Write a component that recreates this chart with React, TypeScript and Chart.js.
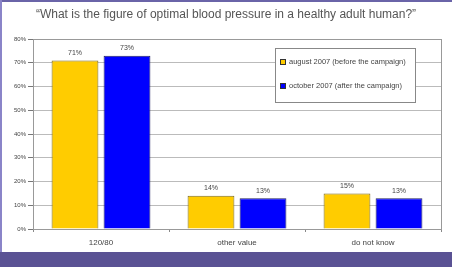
import React, { useEffect, useRef } from "react";
import { Chart, registerables } from "chart.js";
Chart.register(...registerables);

const categories = ["120/80", "other value", "do not know"];
const august2007 = [71, 14, 15];
const october2007 = [73, 13, 13];
const seriesNames = ["august 2007 (before the campaign)", "october 2007 (after the campaign)"];
const yTicks = [0, 10, 20, 30, 40, 50, 60, 70, 80];
const titleText = "\u201CWhat is the figure of optimal blood pressure in a healthy adult human?\u201D";

const YELLOW = "#FFCC00";
const BLUE = "#0000FF";
const FONT = "'Liberation Sans', Arial, sans-serif";

export default function App() {
  const ref = useRef<HTMLCanvasElement | null>(null);
  useEffect(() => {
    if (!ref.current) return;
    const extras = {
      id: "extras",
      afterDraw(chart: any) {
        const ctx = chart.ctx;
        const a = chart.chartArea;
        ctx.save();
        ctx.strokeStyle = "#999";
        ctx.lineWidth = 1;
        ctx.strokeRect(Math.round(a.left) + 0.5, Math.round(a.top) + 0.5, Math.round(a.right - a.left), Math.round(a.bottom - a.top));
        ctx.fillStyle = "#444";
        ctx.font = `7px ${FONT}`;
        ctx.textAlign = "center";
        ctx.textBaseline = "bottom";
        chart.data.datasets.forEach((ds: any, i: number) => {
          const meta = chart.getDatasetMeta(i);
          meta.data.forEach((bar: any, j: number) => {
            ctx.fillText(ds.data[j] + "%", bar.x, bar.y - 4);
          });
        });
        ctx.fillStyle = "#555";
        ctx.font = `12px ${FONT}`;
        ctx.textBaseline = "middle";
        ctx.fillText(titleText, chart.width / 2, 15);
        const lx = 275, ly = 48, lw = 140, lh = 54;
        ctx.fillStyle = "#fff";
        ctx.fillRect(lx, ly, lw, lh);
        ctx.strokeStyle = "#888";
        ctx.strokeRect(lx + 0.5, ly + 0.5, lw, lh);
        const colors = [YELLOW, BLUE];
        seriesNames.forEach((n, i) => {
          const y = 62 + i * 24;
          ctx.fillStyle = colors[i];
          ctx.fillRect(280, y - 2.5, 5, 5);
          ctx.strokeStyle = "#333";
          ctx.strokeRect(280.5, y - 2.5, 5, 5);
          ctx.fillStyle = "#444";
          ctx.font = `7.5px ${FONT}`;
          ctx.textAlign = "left";
          ctx.fillText(n, 289, y);
        });
        ctx.restore();
      },
    };
    const chart = new Chart(ref.current, {
      type: "bar",
      data: {
        labels: categories,
        datasets: [
          { label: seriesNames[0], data: august2007, backgroundColor: YELLOW, borderColor: "#7a6a20", borderWidth: 1 },
          { label: seriesNames[1], data: october2007, backgroundColor: BLUE, borderColor: "#202060", borderWidth: 1 },
        ],
      },
      options: {
        animation: false,
        responsive: false,
        maintainAspectRatio: false,
        layout: { padding: { top: 39, right: 11, left: 0, bottom: 0 } },
        datasets: { bar: { categoryPercentage: 0.765, barPercentage: 0.9 } } as any,
        plugins: { legend: { display: false }, title: { display: false }, tooltip: { enabled: false } },
        scales: {
          x: {
            afterFit: (s: any) => { s.height = 23; },
            grid: { display: true, offset: true, drawOnChartArea: false, tickLength: 3, color: "#888" },
            border: { color: "#888" },
            ticks: { color: "#444", font: { size: 8, family: FONT }, padding: 6 },
          },
          y: {
            min: 0,
            max: 80,
            afterFit: (s: any) => { s.width = 33; },
            afterBuildTicks: (s: any) => { s.ticks = yTicks.map((v) => ({ value: v })); },
            grid: { color: "#bbb", tickLength: 5, tickColor: "#777" },
            border: { color: "#888" },
            ticks: { color: "#444", font: { size: 6, family: FONT }, padding: 2, callback: (v: any) => v + "%" },
          },
        },
      },
      plugins: [extras],
    });
    return () => chart.destroy();
  }, []);
  return (
    <div style={{ position: "fixed", left: 0, top: 0, width: 452, height: 267, background: "#fff", overflow: "hidden" }}>
      <div style={{ position: "absolute", left: 0, top: 0, width: 452, height: 2, background: "#6a64a8" }} />
      <div style={{ position: "absolute", left: 0, top: 0, width: 2, height: 267, background: "#8a84c8" }} />
      <div style={{ position: "absolute", left: 0, top: 252, width: 452, height: 15, background: "#5a5294" }} />
      <canvas ref={ref} width={452} height={252} style={{ position: "absolute", left: 0, top: 0 }} />
    </div>
  );
}
